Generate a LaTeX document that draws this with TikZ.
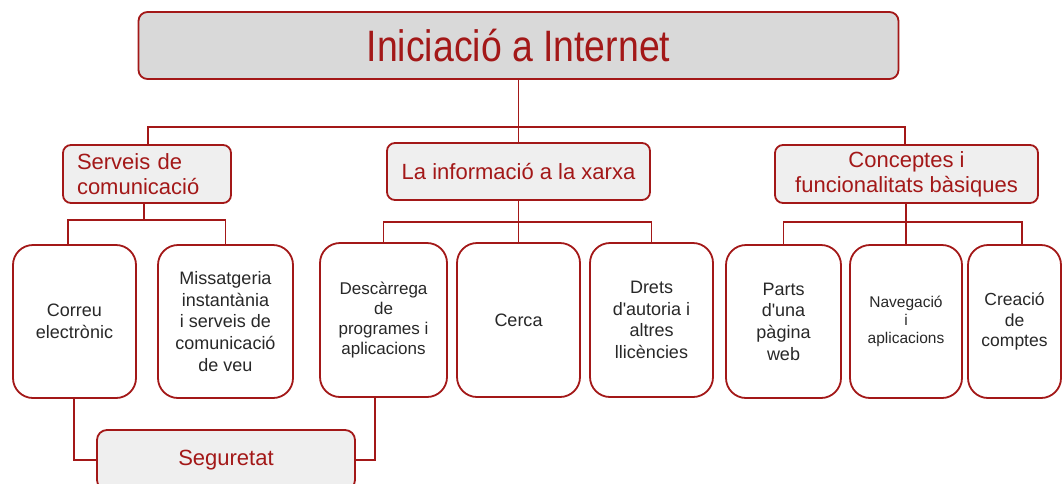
\documentclass[tikz,border=0pt]{standalone}
\usepackage{fontspec}
\setmainfont{Liberation Sans}
\newfontfamily\titlefont[FakeStretch=0.85]{Liberation Sans}
\definecolor{dred}{RGB}{163,24,24}
\definecolor{leaftext}{RGB}{40,40,40}
\definecolor{topfill}{RGB}{217,217,217}
\definecolor{catfill}{RGB}{239,239,239}
\begin{document}
\begin{tikzpicture}[x=1pt,y=-1pt,
  topbox/.style={draw=dred, line width=1.8pt, rounded corners=9pt, fill=topfill, text=dred, inner sep=0pt,
    font=\titlefont\fontsize{44}{48}\selectfont},
  catbox/.style={draw=dred, line width=1.8pt, rounded corners=8pt, fill=catfill, text=dred, inner sep=0pt,
    align=center, font=\fontsize{22}{25}\selectfont},
  leafbox/.style={draw=dred, line width=1.8pt, rounded corners=20pt, fill=white, text=leaftext, inner sep=0pt,
    align=center, minimum height=153pt},
  conn/.style={draw=dred, line width=1.8pt}]
\useasboundingbox (0,0) rectangle (1064,483);
\fill[white] (0,0) rectangle (1064,483);

% top
\node[topbox, minimum width=760pt, minimum height=67pt] (top) at (518.5,45.5) {Iniciació a Internet};

% categories
\node[catbox, minimum width=168pt, minimum height=58pt, align=left, text width=140pt] (serv) at (147,174)
  {Serveis de\\comunicació};
\node[catbox, minimum width=263pt, minimum height=57pt] (info) at (518.5,171.5) {La informació a la xarxa};
\node[catbox, minimum width=263pt, minimum height=58pt] (conc) at (906.5,174)
  {Conceptes i\\funcionalitats bàsiques};

% leaves
\node[leafbox, minimum width=123pt, font=\fontsize{18}{21.7}\selectfont] (correu) at (74.5,321.5) {Correu\\electrònic};
\node[leafbox, minimum width=135pt, font=\fontsize{18}{21.7}\selectfont] (miss) at (225.5,321.5)
  {Missatgeria\\instantània\\i serveis de\\comunicació\\de veu};
\node[leafbox, minimum width=127pt, minimum height=154pt, font=\fontsize{17}{20}\selectfont] (desc) at (383.5,320)
  {Descàrrega\\de\\programes i\\aplicacions};
\node[leafbox, minimum width=123pt, minimum height=154pt, font=\fontsize{18}{21.7}\selectfont] (cerca) at (518.5,320) {Cerca};
\node[leafbox, minimum width=123pt, minimum height=154pt, font=\fontsize{18}{21.7}\selectfont] (drets) at (651.5,320)
  {Drets\\d\textquotesingle autoria i\\altres\\llicències};
\node[leafbox, minimum width=115pt, font=\fontsize{18}{21.7}\selectfont] (parts) at (783.5,321.5)
  {Parts\\d\textquotesingle una\\pàgina\\web};
\node[leafbox, minimum width=112pt, font=\fontsize{15.5}{18}\selectfont] (nav) at (906,321.5)
  {Navegació\\i\\aplicacions};
\node[leafbox, minimum width=93pt, font=\fontsize{17.5}{20.5}\selectfont] (crea) at (1014.5,321.5)
  {Creació\\de\\comptes};

% security
\node[catbox, minimum width=258pt, minimum height=60pt, rounded corners=10pt] (seg) at (226,460) {Seguretat};

% connectors level 1
\coordinate (bus1) at (518.5,127);
\draw[conn] (top.south) -- (info.north);
\draw[conn] ([xshift=1pt]serv.north) |- (bus1) -| ([xshift=-1.5pt]conc.north);

% connectors level 2
\coordinate (b2) at (144,220);
\draw[conn] ([xshift=-3pt]serv.south) -- (b2);
\draw[conn] ([xshift=-6.5pt]correu.north) |- (b2) -| (miss.north);
\coordinate (b3) at (518.5,222);
\draw[conn] (info.south) -- (cerca.north);
\draw[conn] (desc.north) |- (b3) -| (drets.north);
\coordinate (b4) at (906,222);
\draw[conn] ([xshift=-0.5pt]conc.south) -- (nav.north);
\draw[conn] (parts.north) |- (b4) -| ([xshift=7.5pt]crea.north);

% security connectors
\draw[conn] ([xshift=-0.5pt]correu.south) |- (seg.west);
\draw[conn] ([xshift=-8.5pt]desc.south) |- (seg.east);
\end{tikzpicture}
\end{document}
